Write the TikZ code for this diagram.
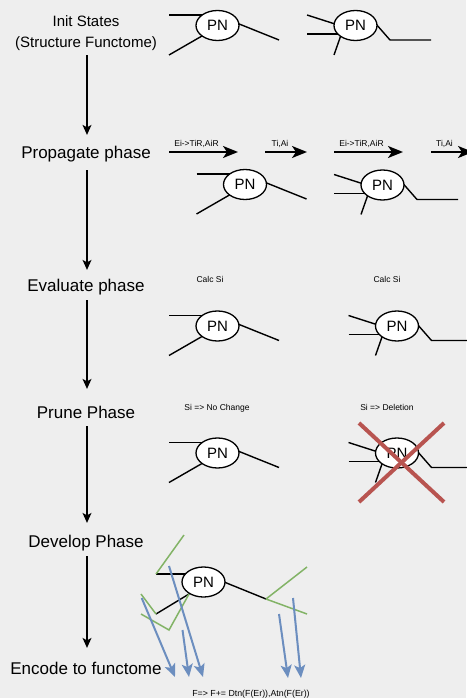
\documentclass[tikz,border=0pt]{standalone}
\usepackage{fontspec}
\setmainfont{Liberation Sans}
\usetikzlibrary{arrows.meta,shapes.geometric}
\definecolor{bgc}{HTML}{EEEEEE}
\definecolor{grn}{HTML}{82B366}
\definecolor{blu}{HTML}{6C8EBF}
\definecolor{redx}{HTML}{B85450}
\pgfdeclarelayer{bg}
\pgfdeclarelayer{edges}
\pgfsetlayers{bg,edges,main}

\newcommand{\pnSimple}[2]{%
  \node[pn] (#1) at (#2) {PN};
  \begin{pgfonlayer}{edges}
    \draw[edge] ([shift={(-48.5,-10.5)}]#1.center) -- ([shift={(-10,-10.5)}]#1.center);
    \draw[edge] ([shift={(-48.5,29.5)}]#1.center) -- ([shift={(-6,5)}]#1.center);
    \draw[edge] ([shift={(8,-7)}]#1.center) -- ([shift={(61.5,14.5)}]#1.center);
  \end{pgfonlayer}}

\newcommand{\pnComplex}[2]{%
  \node[pn] (#1) at (#2) {PN};
  \begin{pgfonlayer}{edges}
    \draw[edge] ([shift={(-48.5,-10.5)}]#1.center) -- ([shift={(-8,2.5)}]#1.center);
    \draw[edge] ([shift={(-48.5,8.5)}]#1.center) -- ([shift={(-8,8.5)}]#1.center);
    \draw[edge] ([shift={(-21.5,29.5)}]#1.center) -- ([shift={(-12.5,3.8)}]#1.center);
    \draw[edge] ([shift={(12,-11.2)}]#1.center) -- ([shift={(34.5,14.5)}]#1.center) -- ([shift={(75.5,14.5)}]#1.center);
  \end{pgfonlayer}}

\begin{document}
\begin{tikzpicture}[x=1pt,y=-1pt,
  pn/.style={ellipse, draw, line width=1.3pt, fill=white, minimum width=43pt, minimum height=30pt, inner sep=0pt, font=\fontsize{15}{15}\selectfont},
  edge/.style={line width=1.4pt, black},
  grnedge/.style={line width=1.5pt, grn},
  bluarrow/.style={line width=2pt, blu, -{Stealth[length=13pt,width=11pt,inset=3pt]}},
  phase/.style={font=\fontsize{17}{20}\selectfont, inner sep=0pt, anchor=base},
  small/.style={font=\fontsize{8.5}{10}\selectfont, inner sep=0pt, anchor=base},
  flow/.style={line width=1.3pt, -{Stealth[length=10pt,width=9pt,inset=2.5pt]}},
  propar/.style={line width=2pt, -{Stealth[length=15pt,width=12pt,inset=4pt]}},
  crossx/.style={line width=4pt, redx}
]
\begin{pgfonlayer}{bg}
  \fill[bgc] (0,0) rectangle (466,698);
\end{pgfonlayer}
\useasboundingbox (0,0) rectangle (466,698);

% left column
\node[font=\fontsize{15}{20.5}\selectfont, inner sep=0pt, align=center, anchor=center] (init) at (86,33) {Init States\\(Structure Functome)};
\node[phase] (prop) at (86,158) {Propagate phase};
\node[phase] (eval) at (86,291) {Evaluate phase};
\node[phase] (prune) at (86,418) {Prune Phase};
\node[phase] (dev) at (86,547) {Develop Phase};
\node[phase] (enc) at (86,674) {Encode to functome};

\draw[flow, shorten <=4.8pt, shorten >=10.6pt] (init.south -| 87,0) -- (prop.north -| 87,0);
\draw[flow, shorten <=8.4pt, shorten >=8.6pt] (prop.south -| 87,0) -- (eval.north -| 87,0);
\draw[flow, shorten <=5.4pt, shorten >=16.6pt] (eval.south -| 87,0) -- (prune.north -| 87,0);
\draw[flow, shorten <=8pt, shorten >=11.6pt] (prune.south -| 87,0) -- (dev.north -| 87,0);
\draw[flow, shorten <=5.4pt, shorten >=13.6pt] (dev.south -| 87,0) -- (enc.north -| 87,0);

% init states
\pnSimple{ia}{217.5,25.5}
\pnComplex{ib}{355.5,25.5}

% propagate
\coordinate (p1s) at (169,152); \coordinate (p1e) at (238,152);
\coordinate (p2s) at (265,152); \coordinate (p2e) at (307,152);
\coordinate (p3s) at (334,152); \coordinate (p3e) at (403,152);
\coordinate (p4s) at (431,152); \coordinate (p4e) at (473,152);
\draw[propar] (p1s) -- (p1e);
\draw[propar] (p2s) -- (p2e);
\draw[propar] (p3s) -- (p3e);
\draw[propar] (p4s) -- (p4e);
\node[small] (l1) at (196.5,146.5) {Ei->TiR,AiR};
\node[small] (l2) at (280,146.5) {Ti,Ai};
\node[small] (l3) at (361.5,146.5) {Ei->TiR,AiR};
\node[small] (l4) at (444.5,146.5) {Ti,Ai};
\pnSimple{pa}{245,184.5}
\pnComplex{pb}{382.5,185}

% evaluate
\node[small] (c1) at (210,282) {Calc Si};
\node[small] (c2) at (387,282) {Calc Si};
\pnSimple{ea}{217.5,326}
\pnComplex{eb}{397,326}

% prune
\node[small] (s1) at (217,410) {Si =>  No Change};
\node[small] (s2) at (387,410) {Si =>  Deletion};
\pnSimple{ra}{217.5,453}
\pnComplex{rb}{397,453}
\draw[crossx] ([shift={(-38,-30)}]rb.center) -- ([shift={(47,49)}]rb.center);
\draw[crossx] ([shift={(47,-30)}]rb.center) -- ([shift={(-38,49)}]rb.center);

% develop
\node[pn] (dn) at (203.5,582) {PN};
\coordinate (dL1) at (156,574);
\coordinate (dL2) at (156,614);
\coordinate (dR) at (266,599);
\begin{pgfonlayer}{edges}
  \draw[edge] (dL1) -- ([shift={(-10,-8)}]dn.center);
  \draw[edge] (dL2) -- ([shift={(-6,6.85)}]dn.center);
  \draw[edge] ([shift={(8.5,-4.9)}]dn.center) -- (dR);
\end{pgfonlayer}
\coordinate (g1) at (184,535);
\coordinate (g2) at (307,567);
\coordinate (g3) at (307,614);
\coordinate (g4) at (141,594);
\coordinate (g5) at (141,614);
\coordinate (g6) at (169,630);
\coordinate (g7) at (189,594);
\draw[grnedge] (dL1) -- (g1);
\draw[grnedge] (dR) -- (g2);
\draw[grnedge] (dR) -- (g3);
\draw[grnedge] (g4) -- (dL2);
\draw[grnedge] (g5) -- (g6) -- (g7);

\coordinate (b1s) at (141.7,598); \coordinate (b1e) at (175,677);
\coordinate (b2s) at (169,566); \coordinate (b2e) at (203,677);
\coordinate (b3s) at (182.5,630); \coordinate (b3e) at (189,677);
\coordinate (b4s) at (279,614); \coordinate (b4e) at (288,678);
\coordinate (b5s) at (293,598); \coordinate (b5e) at (301,678);
\draw[bluarrow] (b1s) -- (b1e);
\draw[bluarrow] (b2s) -- (b2e);
\draw[bluarrow] (b3s) -- (b3e);
\draw[bluarrow] (b4s) -- (b4e);
\draw[bluarrow] (b5s) -- (b5e);

\node[font=\fontsize{8.8}{10}\selectfont, inner sep=0pt, anchor=base] (fx) at (251,696) {F=>  F+= Dtn(F(Er)),Atn(F(Er))};
\end{tikzpicture}
\end{document}
